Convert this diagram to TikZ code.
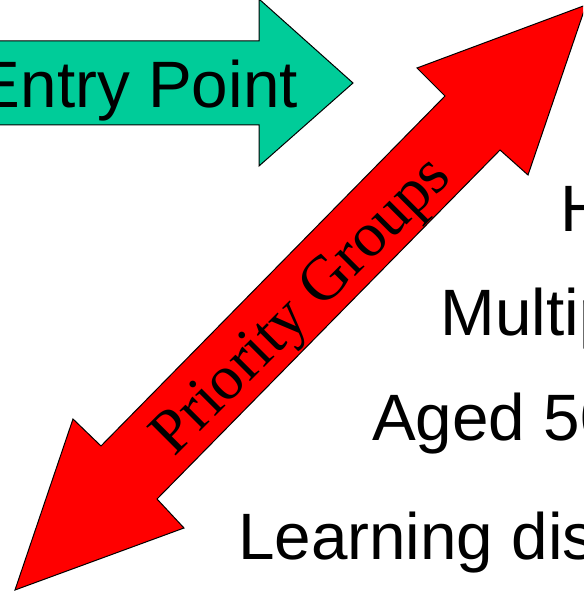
\documentclass[tikz,border=0pt]{standalone}
\usepackage{fontspec}
\setmainfont{Liberation Serif}
\setsansfont{Liberation Sans}
\definecolor{entrygreen}{RGB}{0,204,153}
\tikzset{
  bigarrow/.style={draw=black, line width=1pt, line join=miter},
  sanslabel/.style={inner sep=0pt, font=\sffamily\fontsize{65.6}{70}\selectfont},
  seriflabel/.style={inner sep=0pt, font=\rmfamily\fontsize{63}{68}\selectfont}
}
\begin{document}
\begin{tikzpicture}[x=1pt,y=-1pt]
\useasboundingbox (0,0) rectangle (583,593);
\clip (0,0) rectangle (583,593);

% entry arrow
\fill[entrygreen, bigarrow] (-10,41) -- (259,41) -- (259,-1) -- (353,83)
  -- (259,166) -- (259,125) -- (-10,125) -- cycle;
\node[sanslabel, anchor=base east] (entry) at (298,108) {Entry Point};

% priority arrow
\fill[red, bigarrow] (15,590) -- (73,419) -- (101,446) -- (445,96) -- (417,68)
  -- (586,5) -- (528,175) -- (500,150) -- (157,499) -- (184,528) -- cycle;
\node[seriflabel, anchor=base, rotate=45] (prio) at (314,318) {Priority Groups};

% groups
\node[sanslabel, anchor=base west] (g1) at (560,232) {H};
\node[sanslabel, anchor=base west] (g2) at (440.5,335) {Multip};
\node[sanslabel, anchor=base west] (g3) at (372,440) {Aged 50};
\node[sanslabel, anchor=base west] (g4) at (238,559) {Learning dis};
\end{tikzpicture}
\end{document}
